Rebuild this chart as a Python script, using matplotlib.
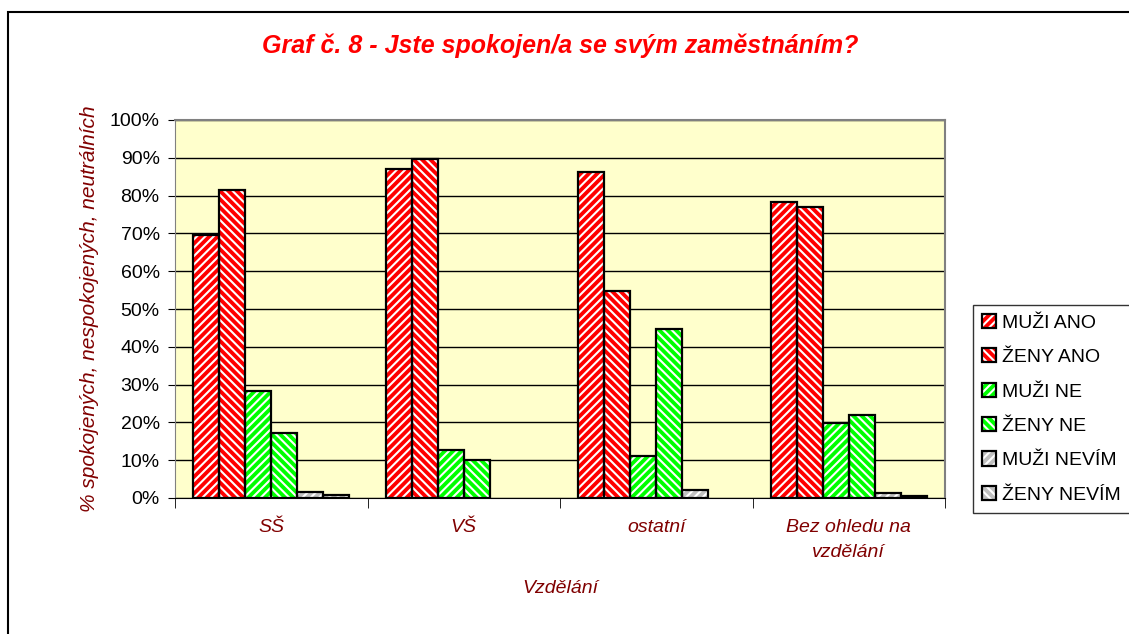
import matplotlib
matplotlib.use('Agg')
import matplotlib.pyplot as plt
from matplotlib.patches import Patch, Rectangle
import numpy as np

plt.rcParams['font.family'] = ['Liberation Sans', 'DejaVu Sans']
plt.rcParams['hatch.linewidth'] = 1.5

categories = ['SŠ', 'VŠ', 'ostatní', 'Bez ohledu na\nvzdělání']
series = ['MUŽI ANO', 'ŽENY ANO', 'MUŽI NE', 'ŽENY NE', 'MUŽI NEVÍM', 'ŽENY NEVÍM']
muzi_ano = [69.5, 87.0, 86.2, 78.2]
zeny_ano = [81.6, 89.8, 54.7, 77.1]
muzi_ne = [28.2, 12.7, 11.1, 19.8]
zeny_ne = [17.1, 10.0, 44.7, 21.9]
muzi_nevim = [1.7, 0.0, 2.0, 1.2]
zeny_nevim = [0.7, 0.0, 0.0, 0.4]
values = [muzi_ano, zeny_ano, muzi_ne, zeny_ne, muzi_nevim, zeny_nevim]

colors = ['#FF0000', '#FF0000', '#00FF00', '#00FF00', '#C0C0C0', '#C0C0C0']
hatches = ['////', '\\\\\\\\', '////', '\\\\\\\\', '////', '\\\\\\\\']
dark_red = '#800000'

fig = plt.figure(figsize=(11.29, 6.34), dpi=100)
ax = fig.add_axes([175/1129, 1 - 498/634, 770/1129, 378/634])
ax.set_facecolor('#FFFFCC')

x = np.arange(len(categories))
w = 0.135
handles = []
for i, (vals, c, h) in enumerate(zip(values, colors, hatches)):
    pos = x + (i - 2.5) * w
    ax.bar(pos, vals, w, color=c, edgecolor='white', hatch=h, linewidth=0, zorder=3)
    outline = ax.bar(pos, vals, w, fill=False, edgecolor='black', linewidth=1.6, zorder=4)
    for p, v in zip(outline.patches, vals):
        if v == 0:
            p.set_linewidth(0)
    handles.append((Patch(facecolor=c, edgecolor='white', hatch=h, linewidth=0),
                    Patch(fill=False, edgecolor='black', linewidth=1.6)))

ax.set_xlim(-0.5, len(categories) - 0.5)
ax.set_ylim(0, 100)
ax.set_yticks(range(0, 101, 10))
ax.set_yticklabels([f'{v}%' for v in range(0, 101, 10)], fontsize=14)
ax.yaxis.grid(True, color='black', linewidth=1.0, zorder=1)
ax.set_axisbelow(True)

ax.set_xticks(x)
ax.set_xticklabels(categories, fontsize=14, style='italic', color=dark_red, linespacing=1.6)
ax.tick_params(axis='x', length=0, pad=15)
ax.set_xticks(np.arange(-0.5, len(categories)), minor=True)
ax.tick_params(axis='x', which='minor', length=7, direction='out')
ax.tick_params(axis='y', length=5, direction='out', pad=6)

for side in ['top', 'right']:
    ax.spines[side].set_color('#808080')
    ax.spines[side].set_linewidth(1.5)
ax.spines['left'].set_color('#808080')
ax.spines['bottom'].set_color('black')

ax.set_ylabel('% spokojených, nespokojených, neutrálních', fontsize=15,
              style='italic', color=dark_red, labelpad=8)
ax.set_xlabel('Vzdělání', fontsize=14, style='italic', color=dark_red, labelpad=14)

fig.text(560/1129, 1 - 46/634, 'Graf č. 8 - Jste spokojen/a se svým zaměstnáním?',
         ha='center', va='center', fontsize=18, fontweight='bold', style='italic', color='red')

leg = fig.legend(handles, series, loc='upper left', bbox_to_anchor=(973/1129, 1 - 305/634),
                 fontsize=14, frameon=True, fancybox=False, handlelength=0.75, handleheight=0.75,
                 handletextpad=0.3, labelspacing=0.85, borderpad=0.45, borderaxespad=0)
leg.get_frame().set_edgecolor('black')
leg.get_frame().set_linewidth(1.0)

fig.patches.append(Rectangle((8/1129, -0.05), 1.2, 1.05 - 12/634, transform=fig.transFigure,
                             fill=False, edgecolor='black', linewidth=1.5))

plt.savefig('out.png', dpi=100)
